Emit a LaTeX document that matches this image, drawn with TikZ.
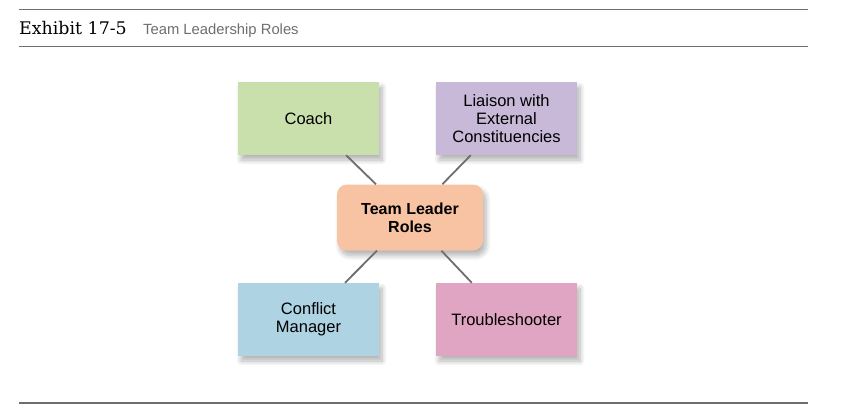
\documentclass[tikz,border=0pt]{standalone}
\usepackage{fontspec}
\setmainfont{DejaVu Serif}
\newfontfamily\boxfont{Liberation Sans}
\usetikzlibrary{shadows.blur}

\definecolor{coachgreen}{HTML}{C9E0AD}
\definecolor{liaisonlilac}{HTML}{C8B9D9}
\definecolor{leaderpeach}{HTML}{F8C3A3}
\definecolor{conflictblue}{HTML}{AED3E2}
\definecolor{troublepink}{HTML}{E0A5C3}
\definecolor{rulegray}{HTML}{6E6E6E}

\begin{document}
\begin{tikzpicture}[x=1pt,y=-1pt,
  role/.style={minimum width=141pt,minimum height=73pt,inner sep=2pt,align=center,
    font=\boxfont\fontsize{16.5}{18}\selectfont,
    blur shadow={shadow xshift=3pt,shadow yshift=-5pt,shadow blur steps=8,
      shadow blur radius=5pt,shadow opacity=30}},
  link/.style={draw=rulegray,line width=1.8pt}]
\useasboundingbox (0,0) rectangle (844,407);

% header
\draw[rulegray,line width=1.2pt] (19,9.5)--(808,9.5);
\draw[rulegray,line width=1.2pt] (19,46.5)--(808,46.5);
\draw[rulegray,line width=1.2pt] (19,403)--(808,403);
\node[anchor=base west,inner sep=0] (ex) at (19,34) {\fontsize{17.4}{18}\selectfont Exhibit 17-5};
\node[anchor=base west,inner sep=0,text=rulegray] (ttl) at (143,34)
  {\boxfont\fontsize{14.8}{15}\selectfont Team Leadership Roles};

% roles
\node[role,fill=coachgreen] (coach) at (308.5,118.5) {Coach};
\node[role,fill=liaisonlilac] (liaison) at (506.5,118.5) {Liaison with\\External\\Constituencies};
\node[role,fill=conflictblue] (conflict) at (308.5,319.5) {Conflict\\Manager};
\node[role,fill=troublepink] (trouble) at (506.5,319.5) {Troubleshooter};
\node[role,fill=leaderpeach,minimum width=146pt,minimum height=66pt,rounded corners=10pt,
  font=\boxfont\bfseries\fontsize{16}{18}\selectfont] (tl) at (410,217.5) {Team Leader\\Roles};

\draw[link] (coach)--(tl);
\draw[link] (liaison)--(tl);
\draw[link] (tl)--(conflict);
\draw[link] (tl)--(trouble);
\end{tikzpicture}
\end{document}
